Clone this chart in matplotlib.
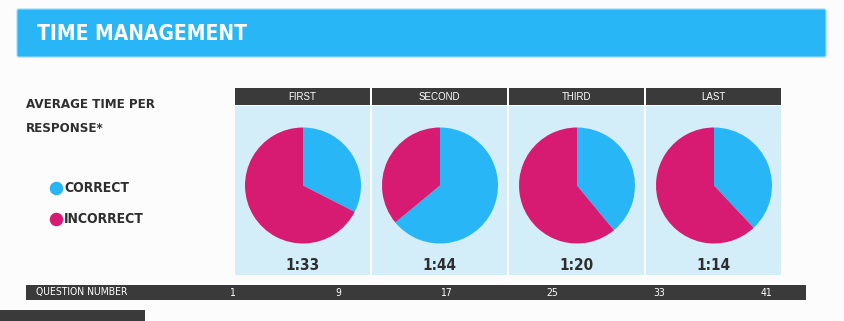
import matplotlib
matplotlib.use("Agg")
import matplotlib.pyplot as plt
from matplotlib import font_manager as fm
from matplotlib.patches import Rectangle, FancyBboxPatch

# data
rounds = ['FIRST', 'SECOND', 'THIRD', 'LAST']
correct_share = [0.325, 0.64, 0.39, 0.38]
avg_times = ['1:33', '1:44', '1:20', '1:14']
question_numbers = [1, 9, 17, 25, 33, 41]
legend_labels = ['CORRECT', 'INCORRECT']

BLUE = '#29B6F6'
PINK = '#D81B72'
PANEL = '#D3EEF9'
DARK = '#3A3A3A'
TEXT = '#2E2E2E'
BG = '#FCFCFC'

W, H = 845, 321


def wt(f):
    w = f.weight
    return w if isinstance(w, int) else fm.weight_dict.get(w, 400)


# the original uses a bold condensed grotesque; pick a bold narrow file if any
narrow = [f for f in fm.fontManager.ttflist
          if ('Condensed' in f.name or 'Narrow' in f.name or f.stretch == 'condensed')
          and f.style == 'normal']
bold_narrow = sorted([f for f in narrow if wt(f) >= 600], key=lambda f: abs(wt(f) - 700))
reg_narrow = sorted(narrow, key=lambda f: abs(wt(f) - 400))


def fp(size, bold=True):
    pool = bold_narrow if bold else reg_narrow
    if pool:
        return fm.FontProperties(fname=pool[0].fname, size=size)
    return fm.FontProperties(family='Liberation Sans', weight='bold' if bold else 'normal',
                             size=size * 0.85)


REG = ['Liberation Sans', 'DejaVu Sans']

fig = plt.figure(figsize=(W / 100, H / 100), dpi=100, facecolor=BG)
ax = fig.add_axes([0, 0, 1, 1])
ax.set_xlim(0, W)
ax.set_ylim(H, 0)
ax.axis('off')

# title banner
ax.add_patch(FancyBboxPatch((17, 9), 809, 48, boxstyle='round,pad=0,rounding_size=2',
                            fc=BLUE, ec='#9ED9F5', lw=0.8))
ax.text(37, 34, 'TIME MANAGEMENT', fontproperties=fp(15), color='white',
        va='center', ha='left')

# left side text + legend
ax.text(26, 105, 'AVERAGE TIME PER', fontproperties=fp(9.5), color=TEXT, va='center')
ax.text(26, 128, 'RESPONSE*', fontproperties=fp(9.5), color=TEXT, va='center')
for i, (lab, col) in enumerate(zip(legend_labels, [BLUE, PINK])):
    y = 188 + i * 31
    ax.scatter([56], [y], s=95, color=col, zorder=3, linewidths=0)
    ax.text(64, y, lab, fontproperties=fp(10), color=TEXT, va='center')

# columns
col_x = [235, 372, 509, 646]
col_w = 135
for i, (name, share, t) in enumerate(zip(rounds, correct_share, avg_times)):
    x0 = col_x[i]
    ax.add_patch(Rectangle((x0, 88), col_w, 17, fc=DARK, ec='none'))
    ax.text(x0 + col_w / 2, 97, name, family=REG, fontsize=7, color='white',
            ha='center', va='center')
    ax.add_patch(Rectangle((x0, 106), col_w, 169, fc=PANEL, ec='none'))
    ax.text(x0 + col_w / 2, 266, t, fontproperties=fp(11), color=TEXT,
            ha='center', va='center')

    cx, cy, r = x0 + col_w / 2 + 0.5, 185.5, 58
    pax = fig.add_axes([(cx - r) / W, 1 - (cy + r) / H, 2 * r / W, 2 * r / H])
    pax.pie([share, 1 - share], colors=[BLUE, PINK], startangle=90,
            counterclock=False, radius=1, wedgeprops=dict(linewidth=0))
    pax.set_xlim(-1, 1)
    pax.set_ylim(-1, 1)
    pax.set_aspect('equal')
    pax.axis('off')

# question number bar
ax.add_patch(Rectangle((26, 285), 780, 15, fc=DARK, ec='none'))
ax.text(36, 292.5, 'QUESTION NUMBER', fontproperties=fp(7.5, bold=False),
        color='white', va='center')
q0, q1 = question_numbers[0], question_numbers[-1]
for q in question_numbers:
    x = 232 + (q - q0) * (766 - 232) / (q1 - q0)
    ax.text(x, 292.5, str(q), fontproperties=fp(7.5, bold=False),
            color='white', ha='center', va='center')

ax.add_patch(Rectangle((0, 310), 145, 11, fc=DARK, ec='none'))

fig.savefig('out.png', dpi=100, facecolor=BG)
